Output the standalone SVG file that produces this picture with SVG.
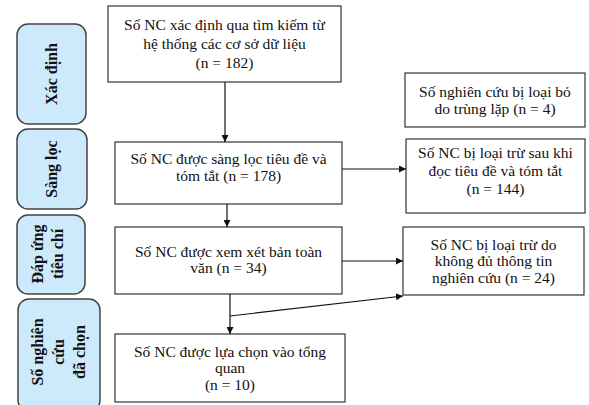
<svg xmlns="http://www.w3.org/2000/svg" width="589" height="405" viewBox="0 0 589 405">
<style>
.box{fill:#fff;stroke:#333;stroke-width:1.2}
.side{fill:#cde9fc;stroke:#444;stroke-width:1.5}
.t{font-family:'Liberation Serif','DejaVu Serif',serif;font-size:15.5px;fill:#111;text-anchor:middle}
.s{font-family:'Liberation Serif','DejaVu Serif',serif;font-size:16px;font-weight:bold;fill:#111;text-anchor:middle}
.c{stroke:#111;stroke-width:1.2;fill:none}
</style>
<defs>
<marker id="ah" viewBox="0 0 10 10" refX="10" refY="5" markerWidth="7" markerHeight="7" markerUnits="userSpaceOnUse" orient="auto">
<path d="M0,0 L10,5 L0,10 Z" fill="#111"/>
</marker>
</defs>
<rect width="589" height="405" fill="#fff"/>
<g id="side1"><rect class="side" x="17" y="24" width="69" height="100" rx="11"/><text class="s" transform="translate(57,74) rotate(-90)">Xác định</text></g>
<g id="side2"><rect class="side" x="17" y="129" width="70" height="80" rx="11"/><text class="s" transform="translate(57,169) rotate(-90)">Sàng lọc</text></g>
<g id="side3"><rect class="side" x="17" y="215" width="68" height="79" rx="11"/><text class="s" transform="translate(43,254) rotate(-90)"><tspan x="0" y="0">Đáp ứng</tspan><tspan x="0" y="20">tiêu chí</tspan></text></g>
<g id="side4"><rect class="side" x="18" y="299" width="82" height="112" rx="11"/><text class="s" transform="translate(43,352) rotate(-90)"><tspan x="0" y="0">Số nghiên</tspan><tspan x="0" y="21">cứu</tspan><tspan x="0" y="42">đã chọn</tspan></text></g>
<g id="n1"><rect class="box" x="108" y="6" width="233" height="76"/><text class="t"><tspan x="224.5" y="30">Số NC xác định qua tìm kiếm từ</tspan><tspan x="224.5" y="49">hệ thống các cơ sở dữ liệu</tspan><tspan x="224.5" y="68">(n = 182)</tspan></text></g>
<g id="n_dup"><rect class="box" x="405" y="73" width="180" height="54"/><text class="t"><tspan x="495" y="97">Số nghiên cứu bị loại bỏ</tspan><tspan x="495" y="114">do trùng lặp (n = 4)</tspan></text></g>
<g id="n2"><rect class="box" x="115" y="142" width="227" height="62"/><text class="t"><tspan x="228.5" y="164">Số NC được sàng lọc tiêu đề và</tspan><tspan x="228.5" y="181">tóm tắt (n = 178)</tspan></text></g>
<g id="n_ex1"><rect class="box" x="406" y="139" width="179" height="74"/><text class="t"><tspan x="495.5" y="158">Số NC bị loại trừ sau khi</tspan><tspan x="495.5" y="176">đọc tiêu đề và tóm tắt</tspan><tspan x="495.5" y="194">(n = 144)</tspan></text></g>
<g id="n3"><rect class="box" x="115" y="227" width="227" height="67"/><text class="t"><tspan x="228.5" y="257">Số NC được xem xét bản toàn</tspan><tspan x="228.5" y="273">văn (n = 34)</tspan></text></g>
<g id="n_ex2"><rect class="box" x="403" y="227" width="181" height="68"/><text class="t"><tspan x="493.5" y="250">Số NC bị loại trừ do</tspan><tspan x="493.5" y="266">không đủ thông tin</tspan><tspan x="493.5" y="283">nghiên cứu (n = 24)</tspan></text></g>
<g id="n4"><rect class="box" x="115" y="334" width="230" height="68"/><text class="t"><tspan x="230" y="357">Số NC được lựa chọn vào tổng</tspan><tspan x="230" y="373">quan</tspan><tspan x="230" y="390">(n = 10)</tspan></text></g>
<g id="connectors">
<line class="c" x1="225" y1="82" x2="225" y2="142" marker-end="url(#ah)"/>
<line class="c" x1="342" y1="169" x2="406" y2="169" marker-end="url(#ah)"/>
<line class="c" x1="227" y1="204" x2="227" y2="227" marker-end="url(#ah)"/>
<line class="c" x1="342" y1="261" x2="403" y2="261" marker-end="url(#ah)"/>
<line class="c" x1="230" y1="294" x2="230" y2="334" marker-end="url(#ah)"/>
<line class="c" x1="230" y1="316" x2="403" y2="296" marker-end="url(#ah)"/>
</g>
</svg>
